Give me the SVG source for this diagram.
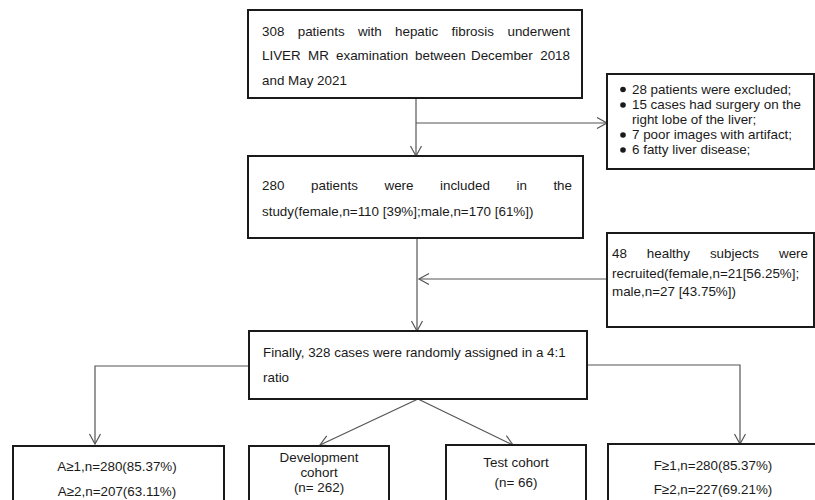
<svg xmlns="http://www.w3.org/2000/svg" width="815" height="500" viewBox="0 0 815 500">
<style>
.box{fill:#fff;stroke:#1a1a1a;stroke-width:2}
.t{font-family:"Liberation Sans",Arial,sans-serif;font-size:13.4px;fill:#1a1a1a}
.c{text-anchor:middle}
.e{text-anchor:end}
.ln{fill:none;stroke:#555;stroke-width:1.2}
</style>
<defs>
<marker id="ah" markerUnits="userSpaceOnUse" markerWidth="14" markerHeight="14" refX="11" refY="6" orient="auto">
<path d="M1,0.5 L11,6 L1,11.5" fill="none" stroke="#555" stroke-width="1.2"/>
</marker>
</defs>
<rect width="815" height="500" fill="#fff"/>
<g id="connectors">
<line class="ln" x1="416" y1="98" x2="416" y2="156" marker-end="url(#ah)"/>
<line class="ln" x1="416" y1="123" x2="607" y2="123" marker-end="url(#ah)"/>
<line class="ln" x1="417" y1="238" x2="417" y2="331" marker-end="url(#ah)"/>
<line class="ln" x1="607" y1="279" x2="419" y2="279" marker-end="url(#ah)"/>
<polyline class="ln" points="249,366 95,366 95,444" marker-end="url(#ah)"/>
<polyline class="ln" points="587,365 740,365 740,444" marker-end="url(#ah)"/>
<line class="ln" x1="418" y1="399" x2="320" y2="445" marker-end="url(#ah)"/>
<line class="ln" x1="418" y1="399" x2="513" y2="445" marker-end="url(#ah)"/>
</g>
<g id="n1">
<rect class="box" x="248" y="10" width="334" height="88"/>
<text class="t" y="36"><tspan x="262">308</tspan><tspan x="297.7">patients</tspan><tspan x="357.9">with</tspan><tspan x="395">hepatic</tspan><tspan x="451.5">fibrosis</tspan></text>
<text class="t e" x="570" y="36">underwent</text>
<text class="t" y="60"><tspan x="262">LIVER</tspan><tspan x="308">MR</tspan><tspan x="336">examination</tspan><tspan x="415">between</tspan><tspan x="471">December</tspan></text>
<text class="t e" x="570" y="60">2018</text>
<text class="t" x="262" y="85">and May 2021</text>
</g>
<g id="n_excluded">
<rect class="box" x="607" y="74" width="207" height="95"/>
<circle cx="623" cy="89.5" r="2.8" fill="#1a1a1a"/>
<circle cx="623" cy="105" r="2.8" fill="#1a1a1a"/>
<circle cx="623" cy="135" r="2.8" fill="#1a1a1a"/>
<circle cx="623" cy="150" r="2.8" fill="#1a1a1a"/>
<text class="t" x="632" y="94">28 patients were excluded;</text>
<text class="t" x="632" y="109">15 cases had surgery on the</text>
<text class="t" x="632" y="124">right lobe of the liver;</text>
<text class="t" x="632" y="139">7 poor images with artifact;</text>
<text class="t" x="632" y="154">6 fatty liver disease;</text>
</g>
<g id="n2">
<rect class="box" x="248" y="156" width="335" height="82"/>
<text class="t" y="189.5"><tspan x="262">280</tspan><tspan x="311">patients</tspan><tspan x="384.5">were</tspan><tspan x="440">included</tspan><tspan x="516.5">in</tspan></text>
<text class="t e" x="572" y="189.5">the</text>
<text class="t" x="262" y="215.5">study(female,n=110 [39%];male,n=170 [61%])</text>
</g>
<g id="n_healthy">
<rect class="box" x="607" y="233" width="207" height="94"/>
<text class="t" y="258"><tspan x="612">48</tspan><tspan x="646.8">healthy</tspan><tspan x="709.9">subjects</tspan></text>
<text class="t e" x="808" y="258">were</text>
<text class="t" x="612" y="277.5">recruited(female,n=21[56.25%];</text>
<text class="t" x="612" y="296">male,n=27 [43.75%])</text>
</g>
<g id="n3">
<rect class="box" x="249" y="331" width="338" height="68"/>
<text class="t" x="263" y="356.5">Finally, 328 cases were randomly assigned in a 4:1</text>
<text class="t" x="263" y="381.5">ratio</text>
</g>
<g id="n_a">
<rect class="box" x="13" y="446" width="211" height="70"/>
<text class="t c" x="117" y="471">A≥1,n=280(85.37%)</text>
<text class="t c" x="117" y="496">A≥2,n=207(63.11%)</text>
</g>
<g id="n_dev">
<rect class="box" x="249" y="446" width="140" height="70"/>
<text class="t c" x="319" y="462">Development</text>
<text class="t c" x="319" y="477">cohort</text>
<text class="t c" x="319" y="492">(n= 262)</text>
</g>
<g id="n_test">
<rect class="box" x="446" y="445" width="140" height="70"/>
<text class="t c" x="516" y="467">Test cohort</text>
<text class="t c" x="516" y="487">(n= 66)</text>
</g>
<g id="n_f">
<rect class="box" x="608" y="444" width="220" height="70"/>
<text class="t c" x="713" y="469.5">F≥1,n=280(85.37%)</text>
<text class="t c" x="713" y="493.5">F≥2,n=227(69.21%)</text>
</g>
</svg>
